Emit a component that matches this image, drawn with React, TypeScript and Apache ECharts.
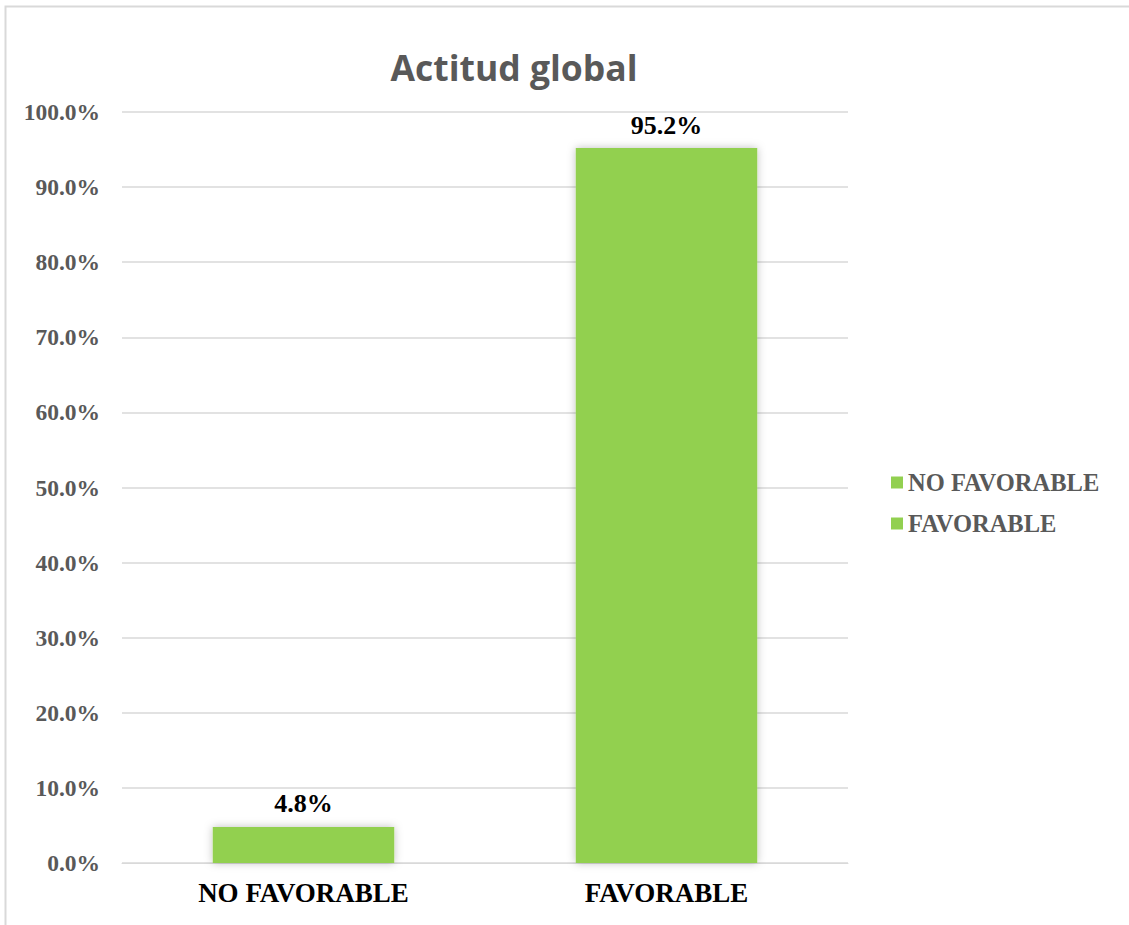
import React, { useEffect, useRef } from "react";
import * as echarts from "echarts";

const categories = ["NO FAVORABLE", "FAVORABLE"];
const values = [4.8, 95.2];
const yTicks = [0, 10, 20, 30, 40, 50, 60, 70, 80, 90, 100];
const title = "Actitud global";

export default function App() {
  const ref = useRef<HTMLDivElement>(null);
  useEffect(() => {
    if (!ref.current) return;
    const chart = echarts.init(ref.current, undefined, { renderer: "svg" });
    const green = "#92d050";
    const series = categories.map((name, i) => ({
      name,
      type: "bar" as const,
      data: categories.map((_, j) => (j === i ? values[i] : "-")),
      barWidth: "50%",
      barGap: "-100%",
      itemStyle: {
        color: green,
        shadowBlur: 8,
        shadowColor: "rgba(0,0,0,0.25)",
        shadowOffsetY: 0,
      },
      label: {
        show: true,
        position: "top" as const,
        distance: 10,
        formatter: (p: any) => `${Number(p.value).toFixed(1)}%`,
        color: "#000",
        fontFamily: "Liberation Serif",
        fontWeight: "bold" as const,
        fontSize: 26,
      },
    }));
    chart.setOption({
      animation: false,
      backgroundColor: "#fff",
      graphic: [
        {
          type: "rect",
          shape: { x: 5.5, y: 6.5, width: 1300, height: 1100 },
          style: { fill: "none", stroke: "#d9d9d9", lineWidth: 2 },
          silent: true,
        },
        {
          type: "text",
          x: 514,
          y: 67,
          style: {
            text: title,
            align: "center",
            verticalAlign: "middle",
            fontFamily: "Open Sans",
            fontWeight: "bold",
            fontSize: 35.5,
            fill: "#595959",
          },
          silent: true,
        },
      ],
      legend: {
        orient: "vertical",
        left: 886,
        top: 465,
        itemWidth: 12,
        itemHeight: 12,
        itemGap: 16,
        icon: "rect",
        textStyle: {
          fontFamily: "Liberation Serif",
          fontWeight: "bold",
          fontSize: 24.5,
          color: "#595959",
        },
        data: categories,
      },
      grid: { left: 122, right: 281, top: 112, bottom: 62, containLabel: false },
      xAxis: {
        type: "category",
        data: categories,
        axisLine: { lineStyle: { color: "#d9d9d9", width: 1 } },
        axisTick: { show: false },
        axisLabel: {
          margin: 16,
          color: "#000",
          fontFamily: "Liberation Serif",
          fontWeight: "bold",
          fontSize: 27,
        },
      },
      yAxis: {
        type: "value",
        min: yTicks[0],
        max: yTicks[yTicks.length - 1],
        interval: 10,
        axisLine: { show: false },
        axisTick: { show: false },
        splitLine: { lineStyle: { color: "#d9d9d9", width: 1.5 } },
        axisLabel: {
          margin: 22,
          color: "#595959",
          fontFamily: "Liberation Serif",
          fontWeight: "bold",
          fontSize: 23.5,
          formatter: (v: number) => `${v.toFixed(1)}%`,
        },
      },
      series,
    });
    return () => chart.dispose();
  }, []);
  return (
    <div
      ref={ref}
      style={{ position: "fixed", left: 0, top: 0, width: 1129, height: 925 }}
    />
  );
}
